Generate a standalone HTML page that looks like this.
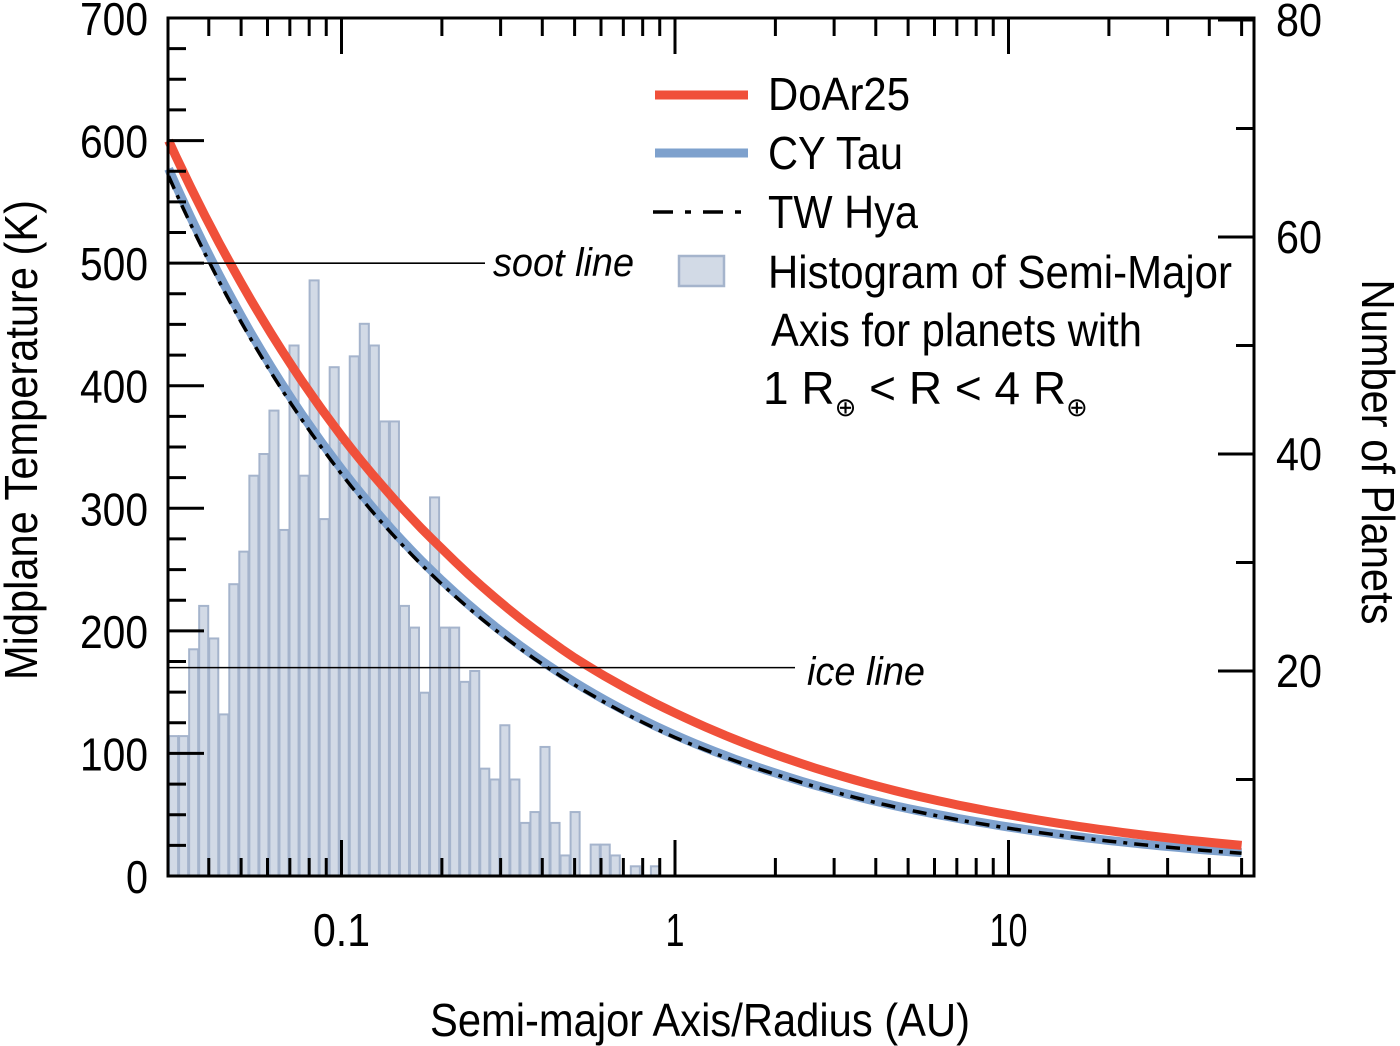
<!DOCTYPE html>
<html><head><meta charset="utf-8">
<style>
html,body{margin:0;padding:0;background:#fff;}
svg{display:block;}
text{font-family:"Liberation Sans",sans-serif;fill:#000;}
</style></head>
<body>
<svg id="chart" width="1400" height="1046" viewBox="0 0 1400 1046" xmlns="http://www.w3.org/2000/svg">
<g id="hist"></g>
<g id="curves"></g>
<g id="axes"></g>
<g id="legend"></g>
</svg>
<script>
// ---- data ----
const histCounts = [14,14,22,26,23,16,28,31,38,40,44,33,50,38,56,34,48,41,49,52,50,43,43,26,24,18,36,24,24,19,20,11,10,15,10,6,7,13,6,3,7,0,4,4,3,0,2,0,2];
const histStartAU = 0.0303;
const histBinDex = 0.0301;
const curveAU = [0.0303,0.05,0.1,0.2,0.5,1,2,5,10,20,50];
const doar25T = [600,484,359,267,178,133,99,67,50,37,25];
const cytauT = [577,457,332,241,158,115,84,55,40,29,19];
const twhyaT = [571,452,328,238,156,113,83,54,39,28.5,18.5];
const leftTicks = [0,100,200,300,400,500,600,700];
const rightTicks = [20,40,60,80];
const xTickLabels = ["0.1","1","10"];
const xTickValues = [0.1,1,10];
const sootT = 500, iceT = 170;

// ---- geometry ----
const X0=168, X1=1254, Y0=18, Y1=876;
const NS="http://www.w3.org/2000/svg";
function xs(a){return 675+333.5*Math.log10(a);}
function yl(t){return Y1-t*(Y1-Y0)/700;}
function yr(n){return 888-n*10.85;}
function mk(tag,attrs,parent){const e=document.createElementNS(NS,tag);for(const k in attrs)e.setAttribute(k,attrs[k]);parent.appendChild(e);return e;}

const hist=document.getElementById('hist');
histCounts.forEach((n,i)=>{
  if(n<=0)return;
  const a0=histStartAU*Math.pow(10,i*histBinDex), a1=histStartAU*Math.pow(10,(i+1)*histBinDex);
  const x=xs(a0), w=xs(a1)-x, y=Math.max(yr(n),Y0);
  const r=mk('rect',{x:x+0.5,y:y,width:w-1,height:Y1-y,fill:'#d2dae6',stroke:'#a5b4cc','stroke-width':2},hist);
  
  
});

const axes=document.getElementById('axes');
// soot & ice lines
let l=mk('line',{x1:X0,x2:485,y1:yl(sootT),y2:yl(sootT),stroke:'#000','stroke-width':1.6},axes);


l=mk('line',{x1:X0,x2:795,y1:yl(iceT),y2:yl(iceT),stroke:'#000','stroke-width':1.6},axes);


let t=mk('text',{x:493,y:276,'font-size':40,'font-style':'italic',textLength:141,lengthAdjust:'spacingAndGlyphs'},axes);t.textContent='soot line';


t=mk('text',{x:807,y:685,'font-size':40,'font-style':'italic',textLength:118,lengthAdjust:'spacingAndGlyphs'},axes);t.textContent='ice line';



const curves=document.getElementById('curves');
function path(vals){return curveAU.map((a,i)=>(i?'L':'M')+xs(a).toFixed(1)+','+yl(vals[i]).toFixed(1)).join('');}
function smooth(vals){ // dense monotone interpolation in log-log space for display
  let d='';const N=curveAU.length;
  for(let i=0;i<N-1;i++){
    const la0=Math.log10(curveAU[i]),la1=Math.log10(curveAU[i+1]),lt0=Math.log10(vals[i]),lt1=Math.log10(vals[i+1]);
    for(let k=0;k<=10;k++){if(i>0&&k==0)continue;const f=k/10;const a=Math.pow(10,la0+f*(la1-la0)),tt=Math.pow(10,lt0+f*(lt1-lt0));
      d+=(d?'L':'M')+xs(a).toFixed(1)+','+yl(tt).toFixed(1);}
  }
  return d;
}
let p=mk('path',{d:smooth(cytauT),fill:'none',stroke:'#7ea1cd','stroke-width':9},curves);


p=mk('path',{d:smooth(twhyaT),fill:'none',stroke:'#000','stroke-width':3.5,'stroke-dasharray':'14,7,4,7'},curves);


p=mk('path',{d:smooth(doar25T),fill:'none',stroke:'#f0503a','stroke-width':9},curves);



// frame
let fr=mk('rect',{x:X0,y:Y0,width:X1-X0,height:Y1-Y0,fill:'none',stroke:'#000','stroke-width':3},axes);


// left ticks
for(let v=0;v<=700;v+=25){const y=yl(v),L=(v%100==0)?36:18;
  const tk=mk('line',{x1:X0,x2:X0+L,y1:y,y2:y,stroke:'#000','stroke-width':3},axes);
  
  }
leftTicks.forEach(v=>{const tx=mk('text',{x:148,y:yl(v)+17,'font-size':46,'text-anchor':'end',textLength:v==0?22:68,lengthAdjust:'spacingAndGlyphs'},axes);tx.textContent=v;
  
  });
// right ticks
for(let n=10;n<=80;n+=10){const y=yr(n),L=(n%20==0)?36:18;
  const tk=mk('line',{x1:X1-L,x2:X1,y1:y,y2:y,stroke:'#000','stroke-width':3},axes);
  
  }
rightTicks.forEach(n=>{const tx=mk('text',{x:1276,y:Math.max(yr(n),20)+16,'font-size':46,textLength:46,lengthAdjust:'spacingAndGlyphs'},axes);tx.textContent=n;
  
  });
// x ticks (log)
for(let dec=-2;dec<=1;dec++){for(let m=1;m<10;m++){const a=m*Math.pow(10,dec),x=xs(a);if(x<X0+1||x>X1-1)continue;const L=(m==1)?36:18;
  let tk=mk('line',{x1:x,x2:x,y1:Y1,y2:Y1-L,stroke:'#000','stroke-width':3},axes);
  
  
  tk=mk('line',{x1:x,x2:x,y1:Y0,y2:Y0+L,stroke:'#000','stroke-width':3},axes);
  
  }}
xTickValues.forEach((v,i)=>{const s=xTickLabels[i];const tx=mk('text',{x:xs(v),y:946,'font-size':46,'text-anchor':'middle',textLength:s.length*19,lengthAdjust:'spacingAndGlyphs'},axes);tx.textContent=s;
  
  });
// axis titles
t=mk('text',{x:700,y:1036,'font-size':46,'text-anchor':'middle',textLength:540,lengthAdjust:'spacingAndGlyphs'},axes);t.textContent='Semi-major Axis/Radius (AU)';


t=mk('text',{x:0,y:0,'font-size':46,'text-anchor':'middle',textLength:480,lengthAdjust:'spacingAndGlyphs',transform:'translate(37,440) rotate(-90)'},axes);t.textContent='Midplane Temperature (K)';


t=mk('text',{x:0,y:0,'font-size':46,'text-anchor':'middle',textLength:345,lengthAdjust:'spacingAndGlyphs',transform:'translate(1362,452) rotate(90)'},axes);t.textContent='Number of Planets';



// legend
const lg=document.getElementById('legend');
let e=mk('line',{x1:655,x2:748,y1:95,y2:95,stroke:'#f0503a','stroke-width':9},lg);


e=mk('line',{x1:655,x2:748,y1:153,y2:153,stroke:'#7ea1cd','stroke-width':9},lg);


e=mk('line',{x1:653,x2:748,y1:212,y2:212,stroke:'#000','stroke-width':3.5,'stroke-dasharray':'20,12,6,12'},lg);


e=mk('rect',{x:679,y:256,width:45,height:30,fill:'#d2dae6',stroke:'#a5b4cc','stroke-width':2.5},lg);


const items=[['DoAr25',768,110,142],['CY Tau',768,169,135],['TW Hya',768,228,150],['Histogram of Semi-Major',768,288,464],['Axis for planets with',771,346,371]];
items.forEach(it=>{const tx=mk('text',{x:it[1],y:it[2],'font-size':46,textLength:it[3],lengthAdjust:'spacingAndGlyphs'},lg);tx.textContent=it[0];
  
  });
const rl=mk('text',{x:763,y:404,'font-size':46},lg);


rl.innerHTML='<tspan>1 R</tspan><tspan font-size="26" dy="12">⊕</tspan><tspan dy="-12"> &lt; R &lt; 4 R</tspan><tspan font-size="26" dy="12">⊕</tspan>';
</script>
</body></html>
